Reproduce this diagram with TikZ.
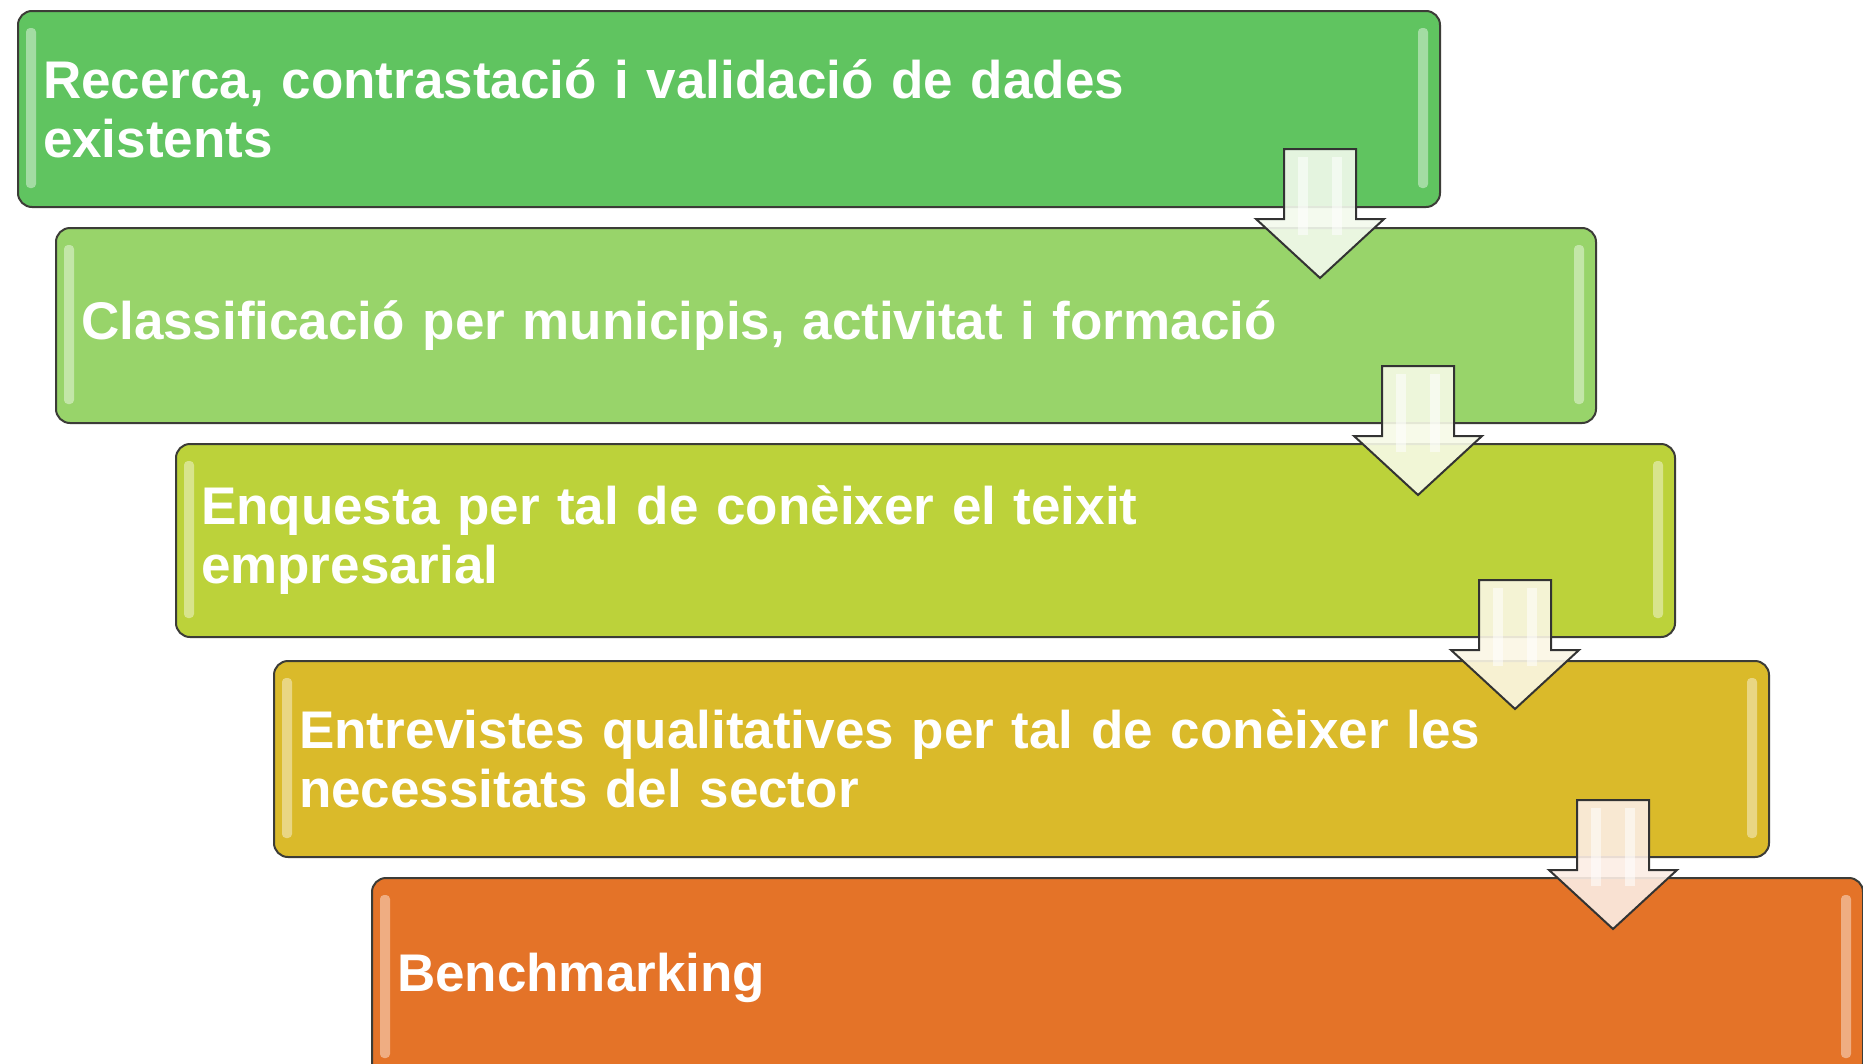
\documentclass[tikz,border=0pt]{standalone}
\usepackage{fontspec}
\setmainfont{Liberation Sans}
\definecolor{cA}{RGB}{96,196,96}
\definecolor{cB}{RGB}{152,212,106}
\definecolor{cC}{RGB}{188,210,58}
\definecolor{cD}{RGB}{218,186,42}
\definecolor{cE}{RGB}{228,115,40}
\definecolor{edge}{RGB}{60,60,55}
\tikzset{
  stepbox/.style={draw=edge, line width=2pt, rounded corners=14pt,
    anchor=north west, inner xsep=0pt, inner ysep=0pt, align=left,
    text=white, font=\bfseries\fontsize{53}{59}\selectfont},
  hilite/.style={line width=0pt, rounded corners=4pt, opacity=0.7},
  blockarr/.style={draw=black!80, line width=2pt, fill opacity=0.9, line join=miter}
}
\newcommand{\mybox}[8]{% name, left, top, right, bottom, colour, text
  \node[stepbox, fill=#6, minimum width=#4-#2, minimum height=#5-#3,
        text width=#4-#2-50] (#1) at (#2,#3) {#7};
  \fill[#6!40!white, hilite] (#2+9,#3+18) rectangle (#2+19,#5-18);
  \fill[#6!40!white, hilite] (#4-21,#3+18) rectangle (#4-11,#5-18);
  #8}
\newcommand{\myarrow}[4]{% name, centre x, top y, fill colour
  \coordinate (#1top) at (#2,#3);
  \coordinate (#1tip) at (#2,#3+129);
  \draw[blockarr, fill=#4]
    ($(#1top)+(-36,0)$) -- ($(#1top)+(36,0)$) -- ($(#1top)+(36,70)$) -- ($(#1top)+(64,70)$)
    -- (#1tip) -- ($(#1top)+(-64,70)$) -- ($(#1top)+(-36,70)$) -- cycle;
  \fill[white, opacity=0.55] ($(#1top)+(-22,8)$) rectangle ($(#1top)+(-12,86)$);
  \fill[white, opacity=0.55] ($(#1top)+(12,8)$) rectangle ($(#1top)+(22,86)$);
}
\usetikzlibrary{calc}
\begin{document}
\begin{tikzpicture}[x=1pt,y=-1pt]
\useasboundingbox (0,0) rectangle (1863,1063);
\clip (0,0) rectangle (1863,1063);
\fill[white] (0,0) rectangle (1863,1063);
\mybox{b1}{17}{10}{1439}{206}{cA}{Recerca, contrastació i validació de dades\\existents}{}
\mybox{b2}{55}{227}{1595}{422}{cB}{Classificació per municipis, activitat i formació}{}
\mybox{b3}{175}{443}{1674}{636}{cC}{Enquesta per tal de conèixer el teixit\\empresarial}{}
\mybox{b4}{273}{660}{1768}{856}{cD}{Entrevistes qualitatives per tal de conèixer les\\necessitats del sector}{}
\mybox{b5}{371}{877}{1862}{1076}{cE}{Benchmarking}{}
\myarrow{a1}{1320}{149}{cB!12!white}
\myarrow{a2}{1418}{366}{cC!12!white}
\myarrow{a3}{1515}{580}{cD!12!white}
\myarrow{a4}{1613}{800}{cE!12!white}
\end{tikzpicture}
\end{document}
